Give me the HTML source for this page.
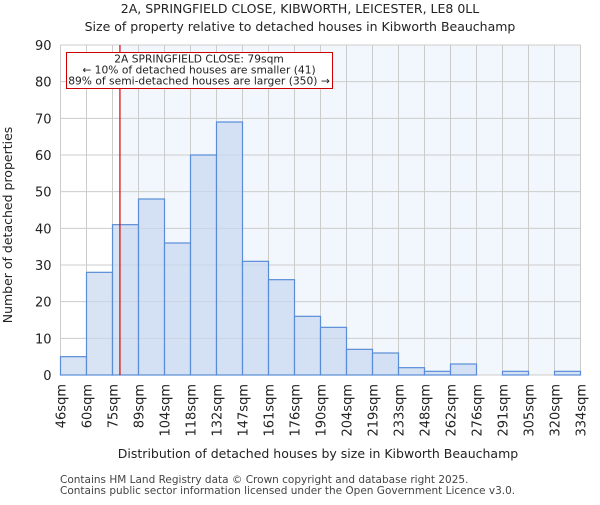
<!DOCTYPE html>
<html><head><meta charset="utf-8"><style>
body{margin:0;background:#fff;font-family:"Liberation Sans","DejaVu Sans",sans-serif}
svg text{font-family:"DejaVu Sans","Liberation Sans",sans-serif}
</style></head><body>
<svg id="chart" width="600" height="500" xmlns="http://www.w3.org/2000/svg">
<text x="300" y="13" font-size="12.5" text-anchor="middle" fill="#222">2A, SPRINGFIELD CLOSE, KIBWORTH, LEICESTER, LE8 0LL</text>
<text x="300" y="31" font-size="12.5" text-anchor="middle" fill="#222">Size of property relative to detached houses in Kibworth Beauchamp</text>
<g id="plot"></g>
<text transform="translate(12,225) rotate(-90)" font-size="12.5" text-anchor="middle" fill="#222">Number of detached properties</text>
<text x="318" y="458" font-size="12.5" text-anchor="middle" fill="#222">Distribution of detached houses by size in Kibworth Beauchamp</text>
<text x="60" y="483" font-size="10.5" fill="#444">Contains HM Land Registry data © Crown copyright and database right 2025.</text>
<text x="60" y="494" font-size="10.5" fill="#444">Contains public sector information licensed under the Open Government Licence v3.0.</text>
</svg>
<script>
const categories=["46sqm","60sqm","75sqm","89sqm","104sqm","118sqm","132sqm","147sqm","161sqm","176sqm","190sqm","204sqm","219sqm","233sqm","248sqm","262sqm","276sqm","291sqm","305sqm","320sqm","334sqm"];
const counts=[5,28,41,48,36,60,69,31,26,16,13,7,6,2,1,3,0,1,0,1];
const yTicks=[0,10,20,30,40,50,60,70,80,90];
const binEdges=[46,60,75,89,104,118,132,147,161,176,190,204,219,233,248,262,276,291,305,320,334];
const markerValue=79;
const annotationLines=["2A SPRINGFIELD CLOSE: 79sqm","← 10% of detached houses are smaller (41)","89% of semi-detached houses are larger (350) →"];

const NS="http://www.w3.org/2000/svg";
const L=60.5,R=580.5,T=45,B=375,yMax=90;
const bw=(R-L)/counts.length;
const y=v=>B-(v/yMax)*(B-T);
const xi=i=>L+i*bw;
function xv(v){for(let i=0;i<binEdges.length-1;i++){if(v<=binEdges[i+1])return xi(i)+(v-binEdges[i])/(binEdges[i+1]-binEdges[i])*bw;}return R;}
const g=document.getElementById('plot');
function mk(t,a){const e=document.createElementNS(NS,t);for(const k in a)e.setAttribute(k,a[k]);g.appendChild(e);return e;}
const mx=xv(markerValue);
let e=mk('rect',{x:mx,y:T,width:R-mx,height:B-T,fill:'#f2f6fd'});


yTicks.forEach(t=>{
 let l=mk('line',{x1:L,x2:R,y1:y(t),y2:y(t),stroke:'#ccc','stroke-width':1});
 
 
 let tx=mk('text',{x:L-9,y:y(t)+5,'font-size':13,'text-anchor':'end',fill:'#222'});
 tx.textContent=t;
 
 
});
categories.forEach((c,i)=>{
 let l=mk('line',{x1:xi(i),x2:xi(i),y1:T,y2:B,stroke:'#ccc','stroke-width':1});
 
 
 let tx=mk('text',{transform:`translate(${xi(i)+5},${B+9}) rotate(-90)`,'font-size':13,'text-anchor':'end',fill:'#222'});
 tx.textContent=c;
 
 
});
counts.forEach((v,i)=>{
 if(v<=0)return;
 let r=mk('rect',{x:xi(i),y:y(v),width:bw,height:B-y(v),fill:'rgba(200,216,240,0.7)',stroke:'#5a8dd6','stroke-width':1.2});
 
 
});
e=mk('line',{x1:mx,x2:mx,y1:T,y2:B,stroke:'#d00','stroke-width':1.2});


e=mk('rect',{x:66.5,y:52.5,width:266,height:36,fill:'#fff',stroke:'#c00','stroke-width':1});


annotationLines.forEach((s,i)=>{
 let tx=mk('text',{x:199,y:62.5+i*11,'font-size':10.7,'text-anchor':'middle',fill:'#222'});
 tx.textContent=s;
 
 
});
</script>
</body></html>
